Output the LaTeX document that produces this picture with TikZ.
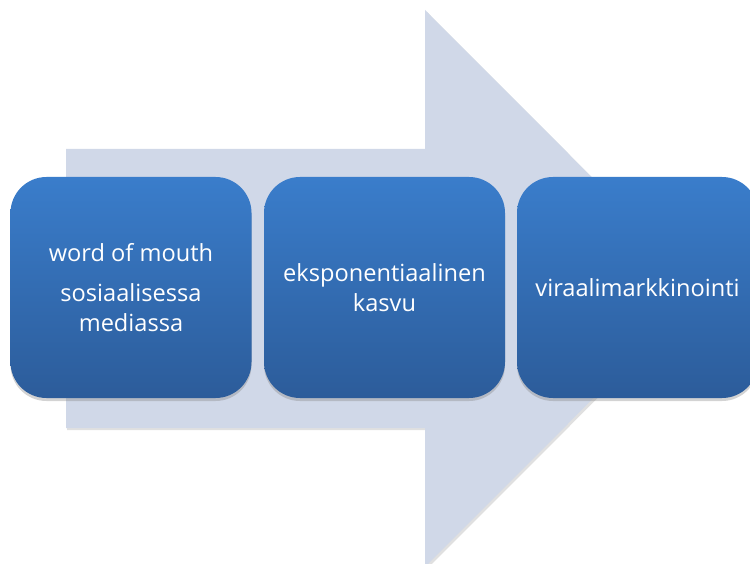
\documentclass[tikz,border=0pt]{standalone}
\usepackage{fontspec}
\setmainfont{Open Sans}
\usetikzlibrary{shadows}
\definecolor{arrowfill}{HTML}{D0D8E8}
\definecolor{boxtop}{HTML}{3A7DCB}
\definecolor{boxbot}{HTML}{2C5C9A}
\tikzset{
  stepbox/.style={rectangle, rounded corners=36pt, minimum width=241pt, minimum height=221pt,
    inner sep=0pt, top color=boxtop, bottom color=boxbot, draw=none,
    text=white, align=center, font=\fontsize{23.6}{30}\selectfont,
    drop shadow={opacity=0.35, shadow xshift=0pt, shadow yshift=-3pt}},
}
\begin{document}
\begin{tikzpicture}[x=1pt,y=-1pt]
\useasboundingbox (0,0) rectangle (750,564);
\clip (0,0) rectangle (750,564);
\fill[black, opacity=0.12] (67,151) -- (427,151) -- (427,12) -- (705,290.5) -- (427,569) -- (427,430) -- (67,430) -- cycle;
\fill[arrowfill] (66,149) -- (425,149) -- (425,10) -- (703,288.5) -- (425,567) -- (425,428) -- (66,428) -- cycle;
\node[stepbox] (b1) at (131,287.5) {word of mouth\\[10pt]sosiaalisessa\\mediassa};
\node[stepbox] (b2) at (384.5,287.5) {eksponentiaalinen\\kasvu};
\node[stepbox] (b3) at (637.5,287.5) {viraalimarkkinointi};
\end{tikzpicture}
\end{document}
